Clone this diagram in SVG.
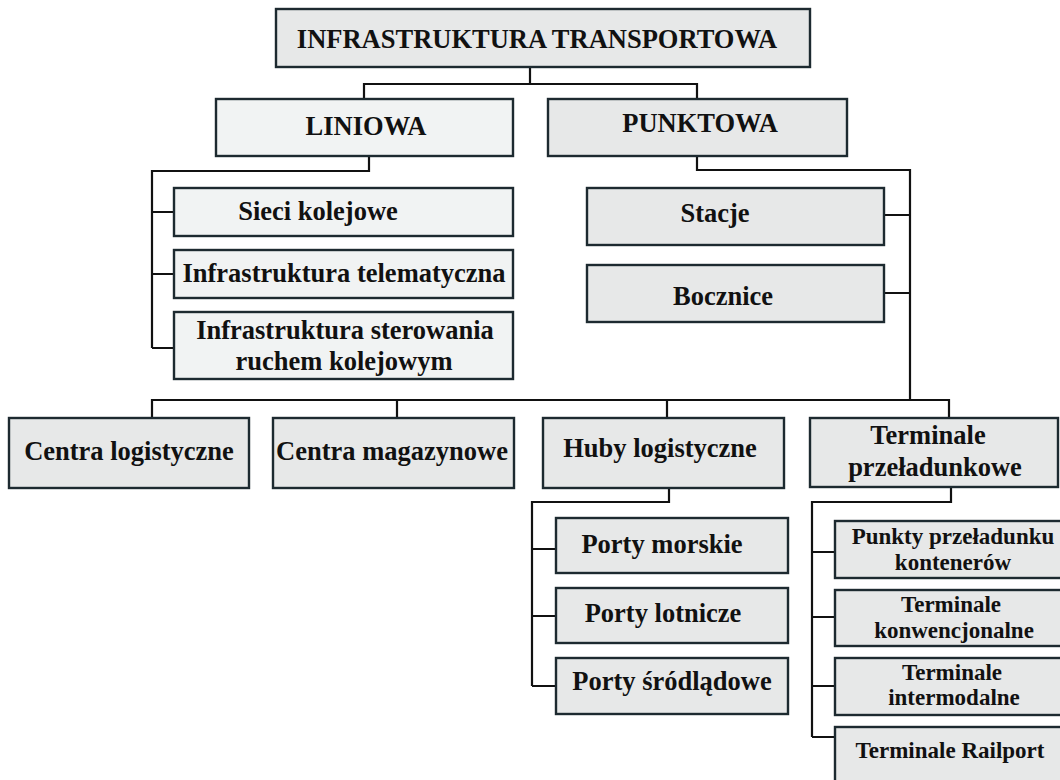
<svg xmlns="http://www.w3.org/2000/svg" width="1060" height="780" viewBox="0 0 1060 780">
<style>
.box{fill:#e7e8e8;stroke:#1d2a30;stroke-width:2.4}
.lt{fill:#f1f3f3}
.t{font-family:"Liberation Serif","Times New Roman",serif;font-weight:bold;font-size:26.5px;fill:#111;text-anchor:middle}
.s{font-size:23px}
.c{fill:none;stroke:#111;stroke-width:2.2}
</style>
<rect width="1060" height="780" fill="#fff"/>
<g id="connectors" class="c">
<path d="M530 67V84M364 99V84H697V99"/>
<path d="M369 156V171H152V348M152 212H174M152 274H174M152 348H174"/>
<path d="M697 156V170H910V400M884 215H910M884 293H910"/>
<path d="M152 418V400H949V418M397 400V418M667 400V418"/>
<path d="M669 488V502H532V686M532 549H556M532 616H556M532 686H556"/>
<path d="M951 487V502H812V737M812 552H835M812 617H835M812 686H835M812 737H835"/>
</g>
<g id="n-root"><rect class="box" x="276" y="9" width="534" height="58"/><text class="t" x="537" y="48">INFRASTRUKTURA TRANSPORTOWA</text></g>
<g id="n-liniowa"><rect class="box lt" x="216" y="99" width="297" height="57"/><text class="t" x="366" y="135">LINIOWA</text></g>
<g id="n-punktowa"><rect class="box" x="548" y="99" width="299" height="57"/><text class="t" x="700" y="132">PUNKTOWA</text></g>
<g id="n-sieci"><rect class="box lt" x="174" y="188" width="339" height="48"/><text class="t" x="318" y="220">Sieci kolejowe</text></g>
<g id="n-telematyczna"><rect class="box lt" x="174" y="250" width="339" height="48"/><text class="t" x="344" y="282">Infrastruktura telematyczna</text></g>
<g id="n-sterowania"><rect class="box lt" x="174" y="312" width="339" height="67"/><text class="t" x="345" y="339">Infrastruktura sterowania</text><text class="t" x="344" y="370">ruchem kolejowym</text></g>
<g id="n-stacje"><rect class="box" x="587" y="188" width="297" height="57"/><text class="t" x="715" y="222">Stacje</text></g>
<g id="n-bocznice"><rect class="box" x="587" y="265" width="297" height="57"/><text class="t" x="723" y="305">Bocznice</text></g>
<g id="n-centra-log"><rect class="box" x="9" y="418" width="240" height="70"/><text class="t" x="129" y="460">Centra logistyczne</text></g>
<g id="n-centra-mag"><rect class="box" x="273" y="418" width="241" height="70"/><text class="t" x="392" y="460">Centra magazynowe</text></g>
<g id="n-huby"><rect class="box" x="543" y="418" width="241" height="70"/><text class="t" x="660" y="457">Huby logistyczne</text></g>
<g id="n-terminale"><rect class="box" x="810" y="418" width="248" height="69"/><text class="t" x="928" y="444">Terminale</text><text class="t" x="935" y="476">przeładunkowe</text></g>
<g id="n-porty-morskie"><rect class="box" x="556" y="518" width="232" height="55"/><text class="t" x="662" y="553">Porty morskie</text></g>
<g id="n-porty-lotnicze"><rect class="box" x="556" y="588" width="232" height="55"/><text class="t" x="663" y="622">Porty lotnicze</text></g>
<g id="n-porty-srodladowe"><rect class="box" x="556" y="658" width="232" height="56"/><text class="t" x="672" y="690">Porty śródlądowe</text></g>
<g id="n-punkty"><rect class="box" x="835" y="521" width="230" height="57"/><text class="t s" x="953" y="544">Punkty przeładunku</text><text class="t s" x="953" y="570">kontenerów</text></g>
<g id="n-konwencjonalne"><rect class="box" x="835" y="590" width="230" height="56"/><text class="t s" x="951" y="612">Terminale</text><text class="t s" x="954" y="638">konwencjonalne</text></g>
<g id="n-intermodalne"><rect class="box" x="835" y="658" width="230" height="57"/><text class="t s" x="952" y="680">Terminale</text><text class="t s" x="954" y="705">intermodalne</text></g>
<g id="n-railport"><rect class="box" x="835" y="727" width="230" height="70"/><text class="t s" x="950" y="758">Terminale Railport</text></g>
</svg>
